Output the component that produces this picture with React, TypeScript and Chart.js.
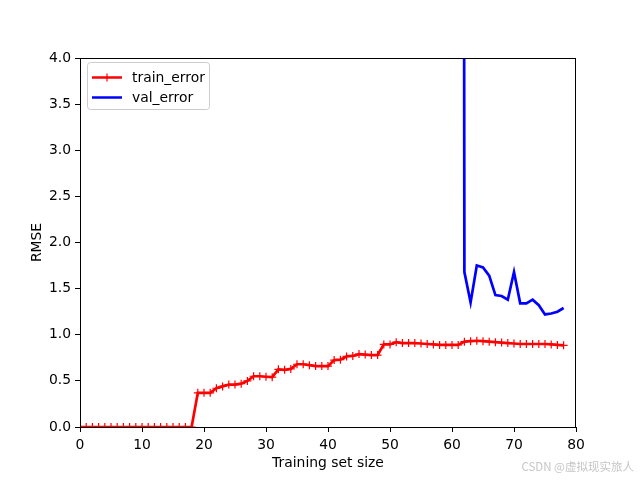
import React, { useEffect, useRef } from "react";
import { Chart, registerables } from "chart.js";

Chart.register(...registerables);

const trainSizes = [
  0, 1, 2, 3, 4, 5, 6, 7, 8, 9, 10, 11, 12, 13, 14, 15, 16, 17, 18, 19,
  20, 21, 22, 23, 24, 25, 26, 27, 28, 29, 30, 31, 32, 33, 34, 35, 36, 37, 38, 39,
  40, 41, 42, 43, 44, 45, 46, 47, 48, 49, 50, 51, 52, 53, 54, 55, 56, 57, 58, 59,
  60, 61, 62, 63, 64, 65, 66, 67, 68, 69, 70, 71, 72, 73, 74, 75, 76, 77, 78,
];

const trainError = [
  0, 0, 0, 0, 0, 0, 0, 0, 0, 0, 0, 0, 0, 0, 0, 0, 0, 0, 0, 0.37,
  0.37, 0.37, 0.42, 0.44, 0.46, 0.46, 0.47, 0.5, 0.55, 0.55, 0.545, 0.54, 0.625, 0.62, 0.63, 0.68, 0.68, 0.67, 0.66, 0.66,
  0.66, 0.725, 0.73, 0.765, 0.77, 0.79, 0.785, 0.78, 0.78, 0.895, 0.895, 0.92, 0.91, 0.91, 0.91, 0.905, 0.9, 0.895, 0.89, 0.89,
  0.89, 0.89, 0.925, 0.93, 0.935, 0.93, 0.925, 0.92, 0.915, 0.91, 0.905, 0.9, 0.9, 0.9, 0.9, 0.9, 0.895, 0.89, 0.885,
];

const valSizes = [61, 62, 63, 64, 65, 66, 67, 68, 69, 70, 71, 72, 73, 74, 75, 76, 77, 78];
const valError = [60, 1.68, 1.35, 1.75, 1.73, 1.64, 1.43, 1.42, 1.38, 1.68, 1.34, 1.34, 1.38, 1.32, 1.22, 1.23, 1.25, 1.29];

const xTicks = [0, 10, 20, 30, 40, 50, 60, 70, 80];
const yTicks = [0, 0.5, 1, 1.5, 2, 2.5, 3, 3.5, 4];

const FONT = "'DejaVu Sans', sans-serif";

const framePlugin = {
  id: "frameAndLegend",
  afterDraw(chart: any) {
    const ctx = chart.ctx as CanvasRenderingContext2D;
    const a = chart.chartArea;
    ctx.save();
    // frame
    ctx.strokeStyle = "#000";
    ctx.lineWidth = 1;
    ctx.strokeRect(Math.round(a.left) + 0.5, Math.round(a.top) + 0.5, Math.round(a.right - a.left) - 1, Math.round(a.bottom - a.top));

    // legend box
    const bx = 87.5, by = 62.5, bw = 122, bh = 47, r = 3;
    ctx.beginPath();
    ctx.moveTo(bx + r, by);
    ctx.lineTo(bx + bw - r, by);
    ctx.quadraticCurveTo(bx + bw, by, bx + bw, by + r);
    ctx.lineTo(bx + bw, by + bh - r);
    ctx.quadraticCurveTo(bx + bw, by + bh, bx + bw - r, by + bh);
    ctx.lineTo(bx + r, by + bh);
    ctx.quadraticCurveTo(bx, by + bh, bx, by + bh - r);
    ctx.lineTo(bx, by + r);
    ctx.quadraticCurveTo(bx, by, bx + r, by);
    ctx.closePath();
    ctx.fillStyle = "rgba(255,255,255,0.8)";
    ctx.fill();
    ctx.strokeStyle = "#cccccc";
    ctx.stroke();

    const ds = chart.data.datasets;
    const rows = [77.5, 97.5];
    ds.forEach((d: any, i: number) => {
      const y = rows[i];
      ctx.strokeStyle = d.borderColor;
      ctx.lineWidth = 2.5;
      ctx.beginPath();
      ctx.moveTo(92, y);
      ctx.lineTo(122, y);
      ctx.stroke();
      if (d.pointRadius > 0) {
        ctx.lineWidth = 1.2;
        ctx.beginPath();
        ctx.moveTo(107, y - 4);
        ctx.lineTo(107, y + 4);
        ctx.moveTo(103, y);
        ctx.lineTo(111, y);
        ctx.stroke();
      }
      ctx.fillStyle = "#000";
      ctx.font = `13.9px ${FONT}`;
      ctx.textBaseline = "middle";
      ctx.textAlign = "left";
      ctx.fillText(d.label, 132, y + 0.5);
    });

    // watermark
    ctx.fillStyle = "rgba(150,150,150,0.55)";
    ctx.font = "11.5px 'Noto Sans CJK SC', sans-serif";
    ctx.textAlign = "right";
    ctx.textBaseline = "middle";
    ctx.fillText("CSDN @虚拟现实旅人", 634, 467);
    ctx.restore();
  },
};

export default function App() {
  const ref = useRef<HTMLCanvasElement | null>(null);

  useEffect(() => {
    if (!ref.current) return;
    const chart = new Chart(ref.current, {
      type: "line",
      data: {
        datasets: [
          {
            label: "train_error",
            data: trainSizes.map((x, i) => ({ x, y: trainError[i] })),
            borderColor: "#ff0000",
            backgroundColor: "#ff0000",
            borderWidth: 2.7,
            pointStyle: "cross",
            pointRadius: 4,
            pointBorderWidth: 1.2,
            pointBorderColor: "#ff0000",
            tension: 0,
          },
          {
            label: "val_error",
            data: valSizes.map((x, i) => ({ x, y: valError[i] })),
            borderColor: "#0000ff",
            backgroundColor: "#0000ff",
            borderWidth: 2.7,
            pointRadius: 0,
            tension: 0,
          },
        ],
      },
      options: {
        animation: false,
        responsive: false,
        devicePixelRatio: 1,
        layout: { padding: { left: 0, top: 58, right: 64, bottom: 0 } },
        plugins: { legend: { display: false }, tooltip: { enabled: false } },
        scales: {
          x: {
            type: "linear",
            min: 0,
            max: 80,
            afterFit: (s: any) => { s.height = 53; },
            afterBuildTicks: (s: any) => { s.ticks = xTicks.map((v) => ({ value: v })); },
            border: { display: false },
            grid: { drawOnChartArea: false, drawTicks: true, tickLength: 5, color: "#000" },
            ticks: { color: "#000", font: { family: FONT, size: 13.9 }, padding: 5, maxRotation: 0, callback: (v: any) => String(v) },
            title: { display: true, text: "Training set size", color: "#000", font: { family: FONT, size: 13.9 }, padding: 8 },
          },
          y: {
            type: "linear",
            min: 0,
            max: 4,
            afterFit: (s: any) => { s.width = 80; },
            afterBuildTicks: (s: any) => { s.ticks = yTicks.map((v) => ({ value: v })); },
            border: { display: false },
            grid: { drawOnChartArea: false, drawTicks: true, tickLength: 5, color: "#000" },
            ticks: { color: "#000", font: { family: FONT, size: 13.9 }, padding: 4, callback: (v: any) => Number(v).toFixed(1) },
            title: { display: true, text: "RMSE", color: "#000", font: { family: FONT, size: 13.9 }, padding: 29 },
          },
        },
      },
      plugins: [framePlugin],
    });
    return () => chart.destroy();
  }, []);

  return (
    <div style={{ position: "fixed", left: 0, top: 0, width: 640, height: 480, background: "#fff" }}>
      <canvas ref={ref} width={640} height={480} style={{ width: 640, height: 480 }} />
    </div>
  );
}
